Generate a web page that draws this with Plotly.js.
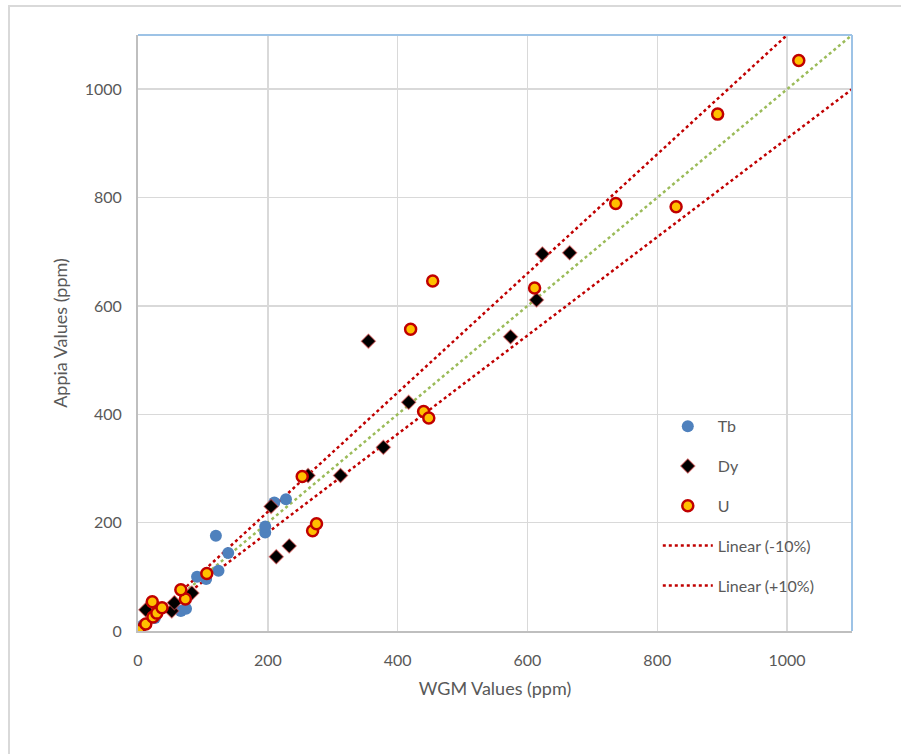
<!DOCTYPE html>
<html>
<head>
<meta charset="utf-8">
<script src="https://cdn.plot.ly/plotly-3.0.1.min.js"></script>
<style>
  html, body { margin: 0; padding: 0; background: #fff; }
  #wrap { position: relative; width: 901px; height: 754px; }
  #chart { position: absolute; left: 0; top: 0; width: 901px; height: 754px; }
  #frame { position: absolute; left: 8px; top: 5px; width: 893px; height: 749px;
           border-top: 2px solid #d9d9d9; border-left: 2px solid #d9d9d9; pointer-events: none; }
</style>
</head>
<body>
<div id="wrap">
  <div id="chart"></div>
  <div id="frame"></div>
</div>
<script>
// Tb
const tbX = [2, 8, 26, 66, 74, 91, 105, 124, 139, 120, 196, 196, 210, 228];
const tbY = [3, 11, 24, 37, 41, 100, 96, 111, 144, 176, 182, 193, 237, 243];
// Dy
const dyX = [3, 12, 52, 56, 83, 205, 213, 233, 262, 312, 355, 378, 417, 574, 614, 623, 665];
const dyY = [4, 39, 37, 52, 70, 230, 137, 157, 287, 287, 535, 339, 422, 543, 611, 696, 698];
// U
const uX = [1, 12, 23, 29, 37, 22, 73, 66, 106, 253, 269, 275, 420, 440, 448, 454, 611, 736, 829, 893, 1018];
const uY = [1, 13, 26, 33, 43, 54, 59, 76, 106, 285, 185, 198, 557, 405, 393, 646, 633, 789, 783, 954, 1053];
// Reference lines
const oneX = [0, 1100];
const oneY = [0, 1100];
const lowX = [0, 1100];
const lowY = [0, 1000];
const highX = [0, 1000];
const highY = [0, 1100];
const xTicks = [0, 200, 400, 600, 800, 1000];
const yTicks = [0, 200, 400, 600, 800, 1000];

const red = '#c00000';
const traces = [
  { x: oneX, y: oneY, mode: 'lines', line: { color: '#9bbb59', width: 2.5, dash: 'dot' },
    showlegend: false, hoverinfo: 'skip' },
  { x: lowX, y: lowY, mode: 'lines', name: 'Linear (-10%)', legendgroup: 'g4', legendrank: 4,
    line: { color: red, width: 2.5, dash: 'dot' } },
  { x: highX, y: highY, mode: 'lines', name: 'Linear (+10%)', legendgroup: 'g5', legendrank: 5,
    line: { color: red, width: 2.5, dash: 'dot' } },
  { x: tbX, y: tbY, mode: 'markers', name: 'Tb', legendgroup: 'g1', legendrank: 1,
    marker: { symbol: 'circle', size: 12, color: '#4f81bd', line: { width: 0 } } },
  { x: dyX, y: dyY, mode: 'markers', name: 'Dy', legendgroup: 'g2', legendrank: 2,
    marker: { symbol: 'diamond', size: 11, color: '#000000', line: { color: 'rgba(230,80,80,0.55)', width: 1.2 } } },
  { x: uX, y: uY, mode: 'markers', name: 'U', legendgroup: 'g3', legendrank: 3,
    marker: { symbol: 'circle', size: 11, color: '#ffc000', line: { color: red, width: 2.5 } } }
];

const fam = 'Lato, "Open Sans", sans-serif';
const axisFont = { family: fam, size: 16, color: '#595959' };
const layout = {
  width: 901, height: 754,
  margin: { l: 138, r: 49, t: 35, b: 123 },
  paper_bgcolor: '#ffffff', plot_bgcolor: '#ffffff',
  font: axisFont,
  showlegend: true,
  legend: {
    x: 0.728, y: 0.372, xanchor: 'left', yanchor: 'top',
    bgcolor: 'rgba(0,0,0,0)', font: { family: fam, size: 16, color: '#595959' },
    tracegroupgap: 16, traceorder: 'grouped', itemwidth: 50
  },
  xaxis: {
    range: [0, 1100], tickvals: xTicks, ticktext: xTicks.map(String),
    showgrid: true, gridcolor: '#d9d9d9', gridwidth: 1.5, zeroline: false,
    showline: true, linecolor: '#bfbfbf', linewidth: 2,
    ticks: 'outside', ticklen: 14, tickcolor: 'rgba(0,0,0,0)',
    tickfont: axisFont,
    title: { text: 'WGM Values (ppm)', font: { family: fam, size: 18, color: '#595959' }, standoff: 14 }
  },
  yaxis: {
    range: [0, 1100], tickvals: yTicks, ticktext: yTicks.map(String),
    showgrid: true, gridcolor: '#d9d9d9', gridwidth: 1.5, zeroline: false,
    showline: true, linecolor: '#bfbfbf', linewidth: 2,
    ticks: 'outside', ticklen: 11, tickcolor: 'rgba(0,0,0,0)',
    tickfont: axisFont,
    title: { text: 'Appia Values (ppm)', font: { family: fam, size: 18, color: '#595959' }, standoff: 12 }
  },
  shapes: [
    { type: 'line', xref: 'paper', yref: 'paper', x0: 0, x1: 1, y0: 1, y1: 1, line: { color: '#9dc3e6', width: 2 } },
    { type: 'line', xref: 'paper', yref: 'paper', x0: 1, x1: 1, y0: 0, y1: 1, line: { color: '#9dc3e6', width: 2 } }
  ]
};

Plotly.newPlot('chart', traces, layout, { displayModeBar: false, staticPlot: true });
</script>
</body>
</html>
